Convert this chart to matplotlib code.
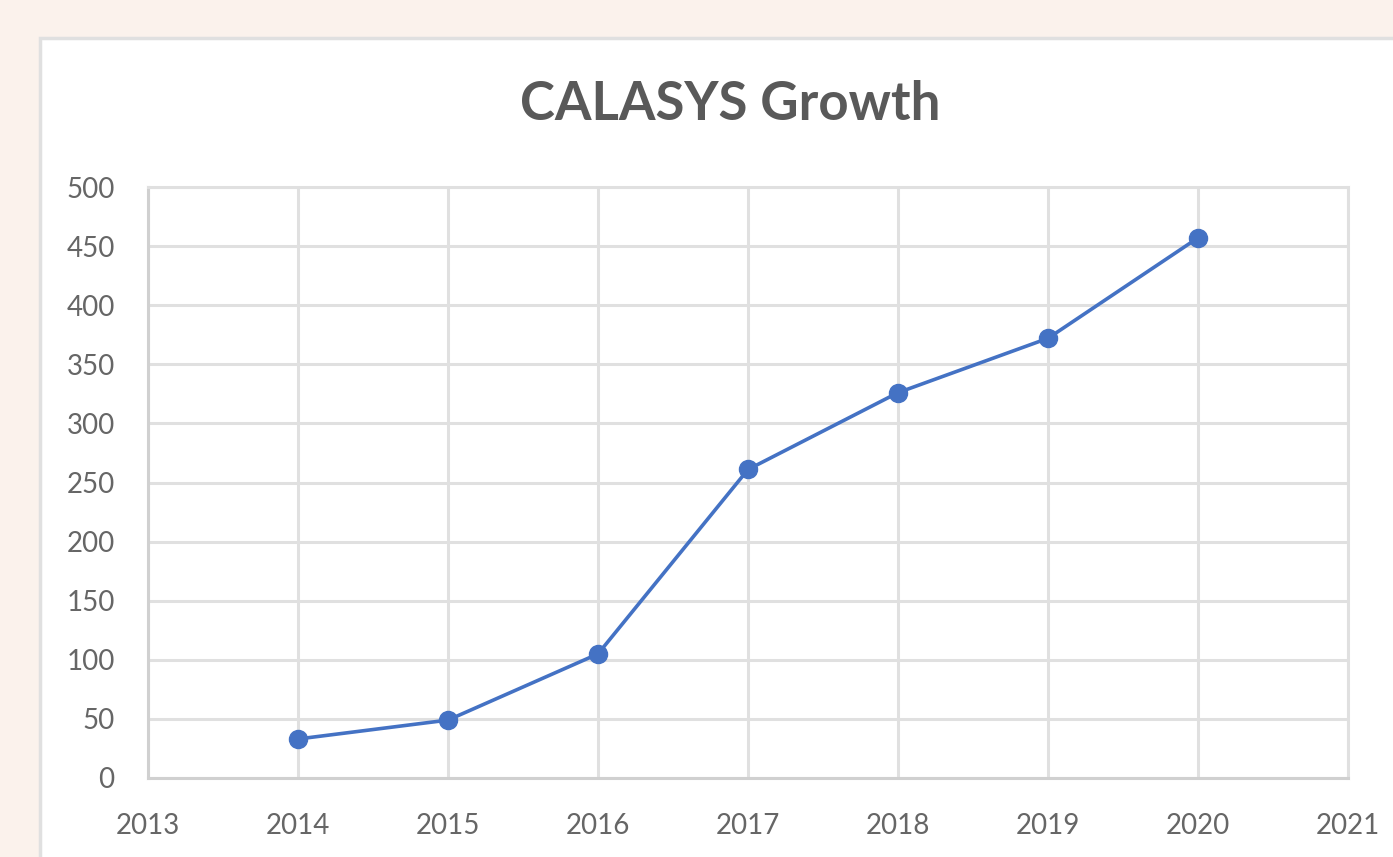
import matplotlib.pyplot as plt
from matplotlib.patches import Rectangle

years = [2014, 2015, 2016, 2017, 2018, 2019, 2020]
values = [33, 49, 105, 261, 326, 372, 457]
x_ticks = list(range(2013, 2022))
y_ticks = list(range(0, 501, 50))

plt.rcParams['font.family'] = ['Lato', 'DejaVu Sans']

fig = plt.figure(figsize=(13.93, 8.57), dpi=100)
fig.patch.set_facecolor('#FBF2EC')

# white chart area with light border
fig.patches.append(Rectangle((40 / 1393, -0.2), 2, (857 - 38) / 857 + 0.2,
                             transform=fig.transFigure, facecolor='white',
                             edgecolor='#E0E0E0', linewidth=2.5, zorder=-5))

ax = fig.add_axes([148 / 1393, 1 - 778 / 857, 1200 / 1393, 591 / 857])
ax.set_zorder(1)
ax.set_facecolor('white')

ax.plot(years, values, color='#4472C4', linewidth=2.6, marker='o',
        markersize=13, zorder=3, clip_on=False)

ax.set_xlim(2013, 2021)
ax.set_ylim(0, 500)
ax.set_xticks(x_ticks)
ax.set_yticks(y_ticks)
ax.grid(True, color='#E0E0E0', linewidth=2.2)
ax.set_axisbelow(True)
ax.tick_params(length=0, labelsize=20, labelcolor='#666666')
ax.tick_params(axis='y', pad=24)
ax.tick_params(axis='x', pad=25)

for side in ['top', 'right']:
    ax.spines[side].set_color('#E0E0E0')
    ax.spines[side].set_linewidth(2.2)
for side in ['left', 'bottom']:
    ax.spines[side].set_color('#D0D0D0')
    ax.spines[side].set_linewidth(2.2)

fig.text(730 / 1393, 1 - 105 / 857, 'CALASYS Growth', ha='center', va='center',
         fontsize=38, fontweight='bold', color='#595959', zorder=2)

fig.savefig('out.png', dpi=100, facecolor=fig.get_facecolor())
